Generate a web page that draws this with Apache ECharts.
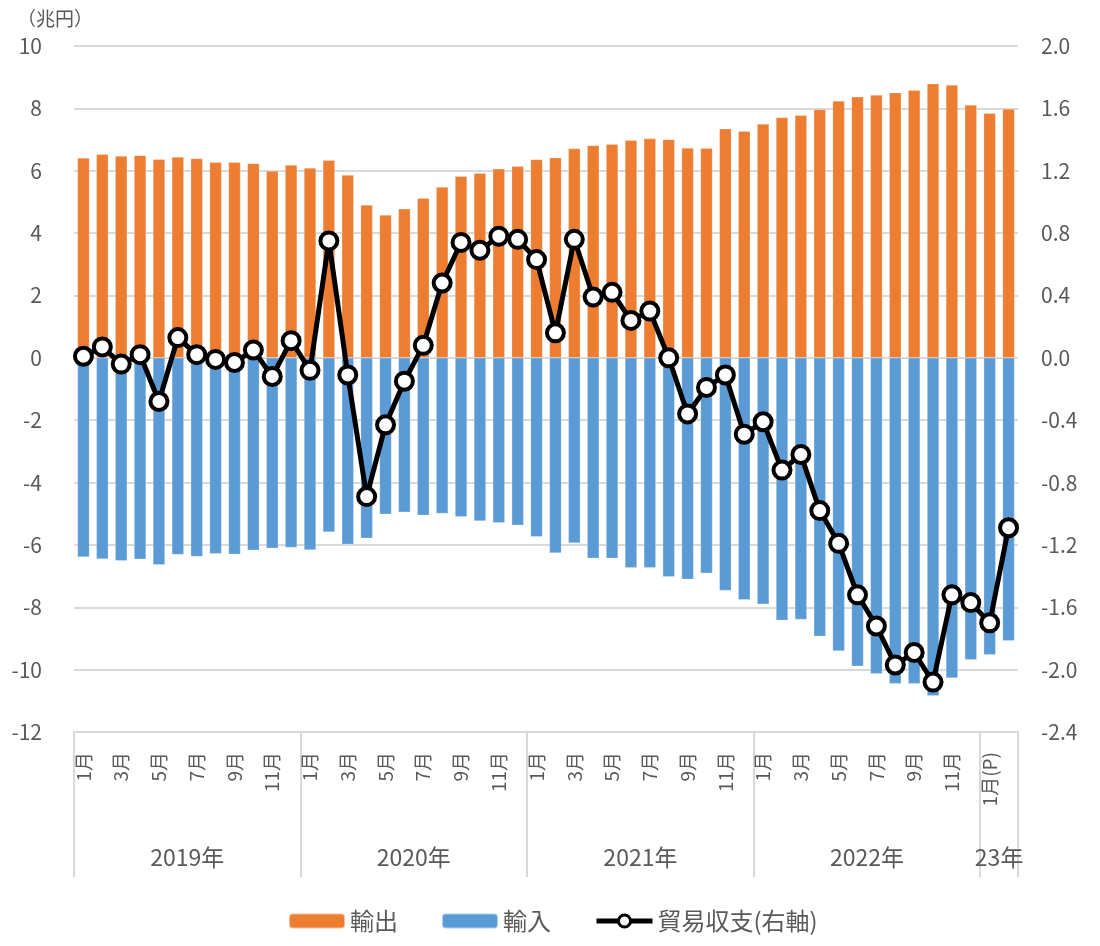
<!DOCTYPE html>
<html lang="ja">
<head>
<meta charset="utf-8">
<title>貿易収支</title>
<script src="https://cdn.jsdelivr.net/npm/echarts@6/dist/echarts.min.js"></script>
<style>
  html, body { margin: 0; padding: 0; background: #fff; }
  #chart { width: 1100px; height: 946px; }
</style>
</head>
<body>
<div id="chart"></div>
<script>
// 月ラベル（2019年1月〜2023年2月）
const monthNames = ['1月', '2月', '3月', '4月', '5月', '6月', '7月', '8月', '9月', '10月', '11月', '12月']
const categories = [].concat(monthNames, monthNames, monthNames, monthNames, ['1月(P)', '2月'])

// 年ラベルとその区切り
const yearNames = ['2019年', '2020年', '2021年', '2022年', '23年']
const yearStarts = [0, 12, 24, 36, 48, 50]

// 輸出（兆円）
const exportValues = [
  6.41, 6.53, 6.47, 6.49, 6.37, 6.44, 6.39, 6.27, 6.27, 6.23, 5.99, 6.18,
  6.09, 6.34, 5.86, 4.90, 4.58, 4.78, 5.12, 5.48, 5.82, 5.92, 6.06, 6.14,
  6.36, 6.42, 6.71, 6.81, 6.85, 6.98, 7.03, 7.00, 6.73, 6.72, 7.35, 7.27,
  7.50, 7.71, 7.78, 7.96, 8.24, 8.37, 8.43, 8.50, 8.58, 8.79, 8.75, 8.11,
  7.84, 7.98
]

// 輸入（兆円、マイナス表示）
const importValues = [
  -6.39, -6.45, -6.51, -6.46, -6.64, -6.31, -6.37, -6.28, -6.30, -6.17, -6.11, -6.08,
  -6.16, -5.59, -5.98, -5.79, -5.02, -4.95, -5.05, -4.99, -5.10, -5.23, -5.29, -5.37,
  -5.74, -6.26, -5.94, -6.43, -6.43, -6.73, -6.73, -7.02, -7.10, -6.91, -7.46, -7.76,
  -7.90, -8.42, -8.39, -8.93, -9.40, -9.89, -10.13, -10.45, -10.45, -10.84, -10.27, -9.68,
  -9.52, -9.07
]

// 貿易収支（右軸、兆円）
const balanceValues = [
  0.01, 0.07, -0.04, 0.02, -0.28, 0.13, 0.02, -0.01, -0.03, 0.05, -0.12, 0.11,
  -0.08, 0.75, -0.11, -0.89, -0.43, -0.15, 0.08, 0.48, 0.74, 0.69, 0.78, 0.76,
  0.63, 0.16, 0.76, 0.39, 0.42, 0.24, 0.30, 0.00, -0.36, -0.19, -0.11, -0.49,
  -0.41, -0.72, -0.62, -0.98, -1.19, -1.52, -1.72, -1.97, -1.89, -2.08, -1.52, -1.57,
  -1.70, -1.09
]

// 年軸：区切り位置の間の中央に年ラベルを置く
const yearAxis = []
for (let i = 0; i <= categories.length; i++) yearAxis.push('')
yearNames.forEach((name, k) => {
  yearAxis[(yearStarts[k] + yearStarts[k + 1]) / 2] = name
})

const FONT = "'Noto Sans CJK JP', 'Noto Sans', sans-serif"
const TEXT_COLOR = '#595959'
const GRID_COLOR = '#d9d9d9'

const chart = echarts.init(document.getElementById('chart'))

const option = {
  animation: false,
  textStyle: { fontFamily: FONT },
  grid: { left: 74, right: 82, top: 46, bottom: 214 },
  legend: {
    left: 283,
    bottom: 8,
    itemGap: 43,
    itemWidth: 56,
    itemHeight: 15,
    textStyle: { fontSize: 24, color: TEXT_COLOR, fontFamily: FONT },
    data: [
      '輸出',
      '輸入',
      { name: '貿易収支(右軸)', lineStyle: { width: 5 }, itemStyle: { borderWidth: 3 } }
    ]
  },
  xAxis: [
    {
      type: 'category',
      data: categories,
      position: 'bottom',
      axisLine: { show: true, onZero: false, lineStyle: { color: GRID_COLOR, width: 2 } },
      axisTick: { show: false },
      axisLabel: {
        interval: 1,
        rotate: 90,
        margin: 20,
        fontSize: 19,
        color: TEXT_COLOR,
        fontFamily: FONT
      }
    },
    {
      // 年の区切りとラベル
      type: 'category',
      data: yearAxis,
      position: 'bottom',
      boundaryGap: false,
      axisLine: { show: false, onZero: false },
      axisTick: {
        show: true,
        length: 145,
        interval: (i) => yearStarts.indexOf(i) >= 0,
        lineStyle: { color: GRID_COLOR, width: 2 }
      },
      axisLabel: {
        interval: 0,
        margin: 114,
        fontSize: 23,
        color: TEXT_COLOR,
        fontFamily: FONT
      }
    }
  ],
  yAxis: [
    {
      type: 'value',
      min: -12,
      max: 10,
      interval: 2,
      name: '（兆円）',
      nameLocation: 'end',
      nameGap: 18,
      nameTextStyle: { fontSize: 19, color: TEXT_COLOR, padding: [0, 38, 0, 0], fontFamily: FONT },
      axisLine: { show: false },
      axisTick: { show: false },
      axisLabel: { margin: 32, fontSize: 21, color: TEXT_COLOR, fontFamily: FONT },
      splitLine: { lineStyle: { color: GRID_COLOR, width: 2 } }
    },
    {
      type: 'value',
      min: -2.4,
      max: 2.0,
      interval: 0.4,
      axisLine: { show: false },
      axisTick: { show: false },
      axisLabel: {
        margin: 23,
        fontSize: 21,
        color: TEXT_COLOR,
        fontFamily: FONT,
        formatter: (v) => v.toFixed(1)
      },
      splitLine: { show: false }
    }
  ],
  series: [
    {
      name: '輸出',
      type: 'bar',
      stack: 'trade',
      barWidth: 12,
      itemStyle: { color: '#ED7D31', borderColor: 'rgba(255,255,255,0.5)', borderWidth: 0.5 },
      data: exportValues
    },
    {
      name: '輸入',
      type: 'bar',
      stack: 'trade',
      barWidth: 12,
      itemStyle: { color: '#5B9BD5', borderColor: 'rgba(255,255,255,0.5)', borderWidth: 0.5 },
      data: importValues
    },
    {
      name: '貿易収支(右軸)',
      type: 'line',
      yAxisIndex: 1,
      z: 5,
      symbol: 'circle',
      symbolSize: 17,
      showAllSymbol: true,
      lineStyle: { color: '#000', width: 5 },
      itemStyle: { color: '#fff', borderColor: '#000', borderWidth: 4 },
      data: balanceValues
    }
  ]
}

chart.setOption(option)
</script>
</body>
</html>
